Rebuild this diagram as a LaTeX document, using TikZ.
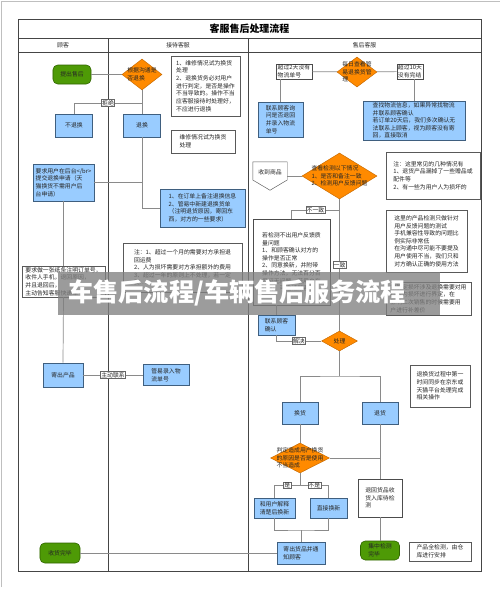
\documentclass[tikz,border=0pt]{standalone}
\usepackage{fontspec}
\setmainfont{Noto Sans CJK SC}
\usetikzlibrary{shapes.geometric,calc}
\definecolor{boxblue}{HTML}{99CCFF}
\definecolor{boxline}{HTML}{3F5F7F}
\definecolor{flowgreen}{HTML}{4E9A06}
\definecolor{greenline}{HTML}{2F6400}
\definecolor{floworange}{HTML}{FF8A00}
\definecolor{orangeline}{HTML}{C86A00}
\definecolor{linegray}{HTML}{8A8A8A}
\definecolor{framegray}{HTML}{454545}
\tikzset{
	txt/.style={font=\fontsize{5}{6.5}\selectfont, text=black!85, align=left, inner sep=1pt},
	bluebox/.style={txt, draw=boxline, fill=boxblue, line width=0.5pt},
	notebox/.style={txt, draw=black!65, fill=white, line width=0.4pt},
	plainbox/.style={txt, draw=black!70, fill=white, line width=0.5pt},
	endbox/.style={txt, draw=greenline, fill=flowgreen, rounded corners=4pt, line width=0.5pt},
	decision/.style={diamond, draw=orangeline, fill=floworange, inner sep=0pt, line width=0.4pt},
	dtext/.style={txt, inner sep=0pt},
	link/.style={draw=linegray, line width=0.6pt},
	frame/.style={draw=framegray, line width=0.6pt},
	linelabel/.style={txt, draw=black!60, fill=white, inner sep=0.6pt, line width=0.3pt}
}
\begin{document}
\begin{tikzpicture}[x=0.03cm, y=-0.03cm]
	\useasboundingbox (0,0) rectangle (500,589);
	\draw[black!25] (1,587) -- (1,1) -- (500,1);
	% frame and lanes
	\draw[frame] (18,19) rectangle (481,571);
	\draw[frame] (18,38) -- (481,38);
	\draw[frame] (18,52) -- (481,52);
	\draw[frame] (108,38) -- (108,571);
	\draw[frame] (248,38) -- (248,571);
	\node[font=\fontsize{8.5}{10}\selectfont\bfseries] (title) at (249.5,28.5) {客服售后处理流程};
	\node[txt] (lane1) at (63,45) {顾客};
	\node[txt] (lane2) at (178,45) {接待客服};
	\node[txt] (lane3) at (364.5,45) {售后客服};
	% 顾客
	\node[endbox, minimum width=1.14cm, minimum height=0.57cm] (tichu) at (72,74.5) {提出售后};
	\node[bluebox, minimum width=1.11cm, minimum height=0.69cm] (butuihuan) at (74,125.5) {不退换};
	\node[bluebox, minimum width=1.83cm, minimum height=1.11cm] (yaoqiu) at (63.5,182.5) {要求用户在后台</br>\\提交退换申请（天\\猫换货不需用户后\\台申请）};
	\node[notebox, minimum width=2.49cm, minimum height=0.93cm] (zhitiao) at (63.5,281.5) {要求做一张纸条注明订单号，\\收件人手机，退回原因，\\并且退回后，\\主动告知客服快递单号};
	\node[bluebox, minimum width=1.2cm, minimum height=0.72cm] (jichu) at (63,375) {寄出产品};
	\node[endbox, minimum width=1.2cm, minimum height=0.6cm] (shouhuo) at (60,553) {收货完毕};
	% 接待客服
	\node[decision, minimum width=1.2cm, minimum height=0.93cm] (genju) at (142,74.5) {};
	\node[dtext] (genjutxt) at (genju) {根据沟通是\\否退换};
	\node[bluebox, minimum width=1.11cm, minimum height=0.69cm] (tuihuan) at (142,125.5) {退换};
	\node[notebox, minimum width=2.07cm, minimum height=1.8cm] (zhuyi1) at (205.5,86) {1、维修情况试为换货\\处理\\2、退换货务必对用户\\进行判定，是否是操作\\不当导致的。操作不当\\应客服接待时处理好，\\不应进行退换};
	\node[notebox, minimum width=1.92cm, minimum height=0.69cm] (zhuyi2) at (203,141.5) {维修情况试为换货\\处理};
	\node[bluebox, minimum width=2.55cm, minimum height=1.14cm] (beizhu) at (202.5,208) {1、在订单上备注退换信息\\2、管易中新建退换货单\\（注明退货原因，寄回东\\西，对方的一些要求）};
	\node[notebox, minimum width=3.57cm, minimum height=1.47cm] (zhuyi3) at (182.5,267.5) {注：1、超过一个月的需要对方承担退\\回运费\\2、人为损坏需要对方承担额外的费用\\3、超过一年的原则上不处理，若一定\\要……};
	\node[bluebox, minimum width=1.38cm, minimum height=0.63cm] (guanyi) at (166,375) {管易录入物\\流单号};
	% 售后客服
	\node[plainbox, minimum width=1.08cm, minimum height=0.45cm] (chao2) at (294,71.5) {超过2天没有\\物流单号};
	\node[decision, minimum width=1.2cm, minimum height=0.9cm] (meiri) at (357,72) {};
	\node[dtext] (meiritxt) at (meiri) {每日查看管\\易退换货管\\理};
	\node[plainbox, minimum width=0.78cm, minimum height=0.45cm] (chao10) at (410,71.5) {超过10天\\没有完结};
	\node[bluebox, minimum width=1.35cm, minimum height=1.05cm] (lianxi1) at (280.5,119.5) {联系顾客询\\问是否退回\\并录入物流\\单号};
	\node[bluebox, minimum width=3.06cm, minimum height=1.17cm] (chazhao) at (414,120.5) {查找物流信息，如果异常找物流\\并联系顾客确认\\若订单20天后，我们多次确认无\\法联系上顾客，视为顾客没有寄\\回，直接取消};
	\node[txt, minimum width=1.02cm, minimum height=0.84cm] (shoudao) at (270,176) {};
	\draw[draw=black!65, fill=white, line width=0.4pt] (shoudao.north west) -- (shoudao.north east) -- ($(shoudao.east)+(0,4)$) -- (shoudao.south) -- ($(shoudao.west)+(0,4)$) -- cycle;
	\node[dtext] (shoudaotxt) at (270,172) {收到商品};
	\node[decision, minimum width=2.25cm, minimum height=1.38cm] (jiancha) at (339.5,176) {};
	\node[dtext] (jianchatxt) at (jiancha) {查看检测以下情况\\1、是否和备注一致\\2、检测用户反馈问题};
	\node[notebox, minimum width=2.82cm, minimum height=1.41cm] (zhuyi4) at (433,175.5) {注：这里常见的几种情况有\\1、退货产品漏掉了一些赠品或\\配件等\\2、有一些为用户人为损坏的};
	\node[plainbox, minimum width=2.31cm, minimum height=2.58cm] (ruojiance) at (291.5,262) {若检测不出用户反馈质\\量问题\\1、和顾客确认对方的\\操作是否正常\\2、同意换新，并附带\\操作方法，无法百分百\\保证无问题，若用户有\\疑问，可邀请顾客};
	\node[notebox, minimum width=2.43cm, minimum height=1.86cm] (zhuyi5) at (426.5,241) {这里的产品检测只做针对\\用户反馈问题的测试\\手机兼容性导致的问题比\\例实际非常低\\在沟通中尽可能不要提及\\用户使用不当，我们只和\\对方确认正确的使用方法};
	\node[notebox, minimum width=2.55cm, minimum height=0.99cm] (zhuyi6) at (428.5,298.5) {如确定损坏涉及退换需要对用\\户人为损坏进行界定，在\\影响二次销售的时候需要用\\户进行补差价};
	\node[bluebox, minimum width=1.11cm, minimum height=0.6cm] (lianxi2) at (276.5,325) {联系顾客\\确认};
	\node[decision, minimum width=1.08cm, minimum height=0.6cm] (chuli) at (339.5,341) {};
	\node[dtext] (chulitxt) at (chuli) {处理};
	\node[bluebox, minimum width=1.08cm, minimum height=0.66cm] (huanhuo) at (300,413) {换货};
	\node[bluebox, minimum width=1.08cm, minimum height=0.66cm] (tuihuo) at (380,413) {退货};
	\node[notebox, minimum width=1.8cm, minimum height=1.26cm] (zhuyi7) at (440,386) {退换货过程中第一\\时间同步在京东或\\天猫平台处理完成\\相关操作};
	\node[decision, minimum width=1.77cm, minimum height=0.9cm] (panding) at (300,458) {};
	\node[dtext] (pandingtxt) at (panding) {判定造成用户换货\\的原因是否是使用\\不当造成};
	\node[bluebox, minimum width=1.23cm, minimum height=0.6cm] (jieshi) at (274.5,508) {和用户解释\\清楚后换新};
	\node[bluebox, minimum width=1.11cm, minimum height=0.6cm] (zhijie) at (328.5,508) {直接换新};
	\node[plainbox, minimum width=1.32cm, minimum height=1.14cm] (tuihui) at (380,498) {退回货品收\\货入库待检\\测};
	\node[bluebox, minimum width=1.44cm, minimum height=0.66cm] (jihuo) at (301,553) {寄出货品并通\\知顾客};
	\node[endbox, minimum width=1.17cm, minimum height=0.57cm] (jizhong) at (380,550.5) {集中检测\\完毕};
	\node[notebox, minimum width=1.86cm, minimum height=0.57cm] (zhuyi8) at (440,551.5) {产品全检测，由仓\\库进行安排};
	% connectors
	\draw[link] (tichu) -- (genju);
	\draw[link] (genju.south) -- (tuihuan.north);
	\coordinate (fork1) at (142,103);
	\draw[link] (fork1) -| (butuihuan.north) node[linelabel, pos=0.25] {拒绝};
	\draw[link] (tuihuan.south) |- (beizhu.west);
	\draw[link] (yaoqiu.east) -- (yaoqiu.east -| tuihuan.south);
	\draw[link] (yaoqiu.south) -- (zhitiao.north);
	\draw[link] (zhitiao.south) -- (jichu.north);
	\draw[link] (jichu) -- (guanyi) node[linelabel, midway] {主动联系};
	\draw[link] (shouhuo) -- (jihuo);
	\draw[link] (chao2) -- (meiri);
	\draw[link] (meiri) -- (chao10);
	\draw[link] (lianxi1.north |- chao2.south) -- (lianxi1.north);
	\draw[link] (chazhao.north |- chao10.south) -- (chazhao.north);
	\draw[link] (shoudao.east) -- (jiancha.west);
	\draw[link] (jiancha.south) -- (chuli.north) node[linelabel, pos=0.5] {一致};
	\coordinate (fork2) at (339.5,210);
	\draw[link] (fork2) -| (ruojiance.north) node[linelabel, pos=0.25] {不一致};
	\draw[link] (lianxi2.north) -- (lianxi2.north |- ruojiance.south);
	\draw[link] (lianxi2.south) |- (chuli.west) node[linelabel, pos=0.75] {解决};
	\coordinate (fork3) at (339.5,376);
	\draw[link] (chuli.south) -- (fork3);
	\draw[link] (huanhuo.north) |- (fork3) -| (tuihuo.north);
	\draw[link] (huanhuo.south) -- (panding.north);
	\draw[link] (tuihuo.south) -- (tuihui.north);
	\draw[link] (panding.east) -- (panding.east -| tuihuo.south);
	\coordinate (fork4) at (300,485);
	\draw[link] (panding.south) -- (fork4);
	\draw[link] (jieshi.north) |- (fork4) node[linelabel, pos=0.75] {是};
	\draw[link] (fork4) -| (zhijie.north) node[linelabel, pos=0.25] {不是};
	\coordinate (fork5) at (301,530);
	\draw[link] (jieshi.south) |- (fork5) -| (zhijie.south);
	\draw[link] (fork5) -- (jihuo.north);
	\draw[link] (tuihui.south) -- (jizhong.north);
	% banner
	\fill[black!50, opacity=0.78] (58,272) rectangle (440,315);
	\node[font=\fontsize{21.5}{22}\selectfont\bfseries, text=white] (banner) at (237,293) {车售后流程/车辆售后服务流程};
\end{tikzpicture}
\end{document}
